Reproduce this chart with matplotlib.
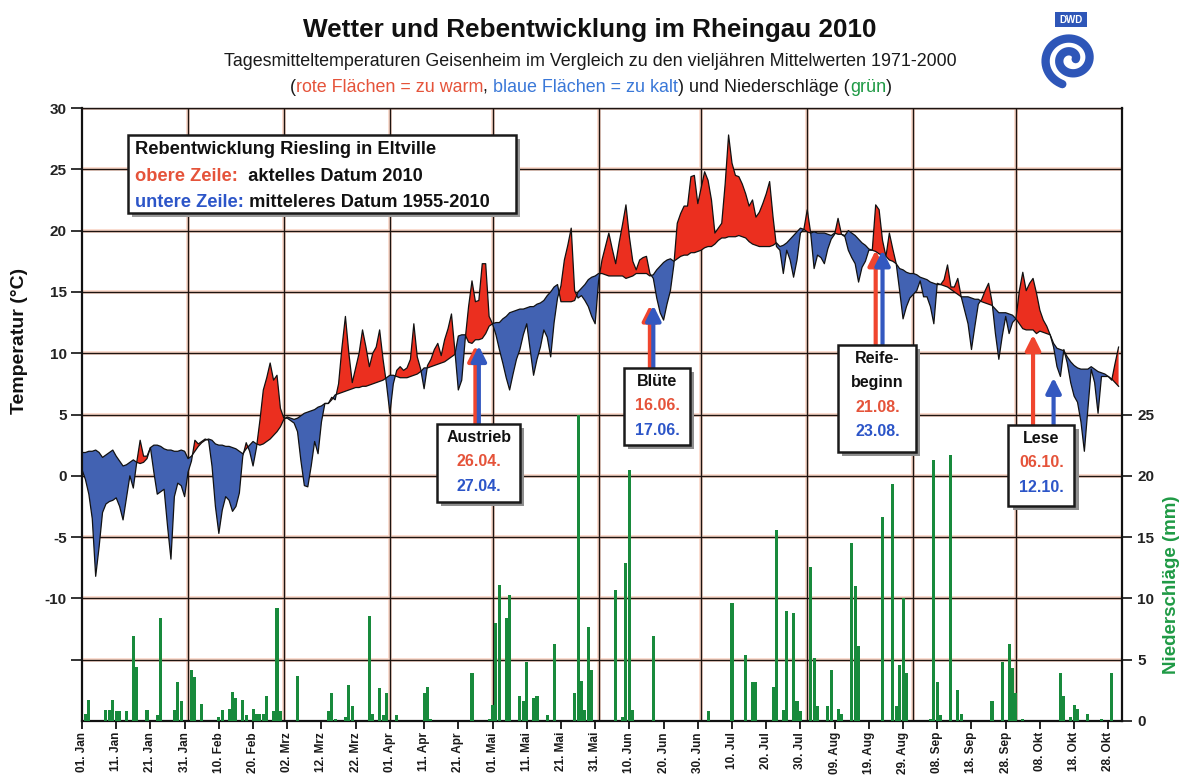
import numpy as np
import matplotlib
matplotlib.use('Agg')
import matplotlib.pyplot as plt
from matplotlib import font_manager
from matplotlib.offsetbox import TextArea, HPacker, VPacker, AnchoredOffsetbox
from matplotlib.patches import Rectangle

plt.rcParams['font.family'] = ['Liberation Sans', 'DejaVu Sans']

# ------------------------------------------------------------------ data
# daily mean temperature 2010 Geisenheim (01 Jan .. 31 Oct)
temp_2010 = [
    0.5, -0.3, -1.5, -3.5, -8.2, -5.8, -3.0, -2.3, -2.1, -2.0,
    -1.8, -2.5, -3.6, -1.8, 0.0, -1.0, 1.1, 2.9, 1.6, 1.6,
    2.3, 0.3, -1.5, -1.3, -1.1, -4.1, -6.8, -1.7, -0.6, -0.8,
    -1.7, 0.3, 1.2, 2.9, 2.6, 2.8, 3.0, 2.9, 0.8, -2.5,
    -4.7, -2.8, -1.7, -2.0, -2.9, -2.5, -1.4, 1.6, 2.7, 2.0,
    0.8, 2.3, 4.5, 7.0, 8.0, 9.2, 7.8, 8.2, 5.5, 4.7,
    4.7, 4.5, 4.3, 3.6, 1.2, -0.8, -0.9, 0.8, 2.8, 1.8,
    4.4, 5.9, 5.9, 6.4, 6.2, 7.5, 10.5, 13.0, 10.0, 7.6,
    8.8, 10.0, 11.9, 10.5, 8.9, 10.0, 10.5, 11.9, 9.5, 7.5,
    5.1, 7.5, 8.6, 8.9, 8.6, 8.8, 9.5, 12.4, 9.7, 8.7,
    7.1, 9.0, 9.5, 10.3, 10.8, 9.8, 11.1, 12.0, 13.2, 10.2,
    7.0, 7.8, 11.1, 13.8, 15.9, 14.2, 14.3, 17.3, 17.3, 13.0,
    12.4, 11.5, 10.3, 9.2, 8.0, 7.0, 8.3, 9.5, 10.3, 11.5,
    12.4, 10.3, 8.2, 9.5, 10.5, 11.9, 11.3, 9.7, 12.5, 14.5,
    15.5, 17.6, 18.8, 20.2, 15.1, 14.5, 14.7, 14.3, 13.8, 13.0,
    12.4, 15.9, 17.6, 18.7, 19.8, 18.5, 17.3, 19.0, 20.5, 22.1,
    19.5, 17.5, 16.8, 17.6, 17.8, 17.9, 16.5, 16.1, 14.5, 13.3,
    12.7, 14.0, 15.1, 17.2, 20.6, 21.4, 22.0, 22.0, 24.4, 24.5,
    22.2, 23.5, 24.8, 24.1, 22.5, 19.8, 20.2, 20.6, 23.8, 27.8,
    25.5, 24.5, 24.4, 23.8, 23.0, 22.0, 22.5, 21.1, 21.5, 22.2,
    23.0, 24.0, 21.1, 18.7, 18.4, 16.5, 18.4, 17.6, 16.2, 17.6,
    19.8, 20.1, 21.7, 19.8, 16.9, 18.0, 17.8, 17.3, 18.5, 19.3,
    19.7, 21.0, 19.7, 19.5, 18.4, 17.8, 17.3, 15.8, 17.0, 17.5,
    18.4, 18.4, 22.1, 21.7, 19.2, 17.9, 19.8, 18.5, 17.3, 15.1,
    12.8, 13.8, 14.5, 14.8, 15.1, 15.9, 14.6, 14.6, 13.8, 12.4,
    15.7, 15.6, 16.0, 17.2, 15.4, 15.4, 16.1, 14.6, 13.5, 12.4,
    10.3, 12.2, 14.0, 14.4, 15.1, 15.7, 14.2, 11.6, 9.5, 11.4,
    13.0, 11.6, 12.5, 12.8, 15.1, 16.6, 15.1, 15.7, 16.1, 14.9,
    13.5, 12.7, 12.2, 11.5, 10.5, 8.9, 8.1, 10.3, 9.2, 7.6,
    6.5, 6.0, 4.4, 2.0, 5.4, 8.7, 7.6, 5.1, 8.1, 8.1,
    8.1, 7.8, 9.2, 10.5]

# long-term daily mean 1971-2000
temp_mean = [
    1.9, 1.9, 2.0, 2.0, 2.1, 1.9, 1.5, 1.7, 1.9, 2.1,
    1.6, 1.2, 0.8, 0.9, 1.1, 1.3, 1.1, 1.0, 1.1, 1.4,
    2.3, 2.5, 2.5, 2.4, 2.2, 2.1, 2.1, 2.0, 2.0, 2.1,
    2.0, 1.4, 1.6, 2.0, 2.4, 2.7, 2.9, 3.0, 2.9, 2.6,
    2.5, 2.5, 2.4, 2.4, 2.3, 2.2, 2.0, 1.8, 2.2, 2.5,
    2.8, 2.6, 2.5, 2.6, 2.8, 3.0, 3.3, 3.6, 4.0, 4.6,
    4.8, 4.7, 4.6, 4.7, 4.9, 5.1, 5.2, 5.3, 5.4, 5.6,
    5.7, 5.9, 5.9, 6.2, 6.6, 6.7, 6.8, 6.9, 7.0, 7.1,
    7.2, 7.2, 7.3, 7.3, 7.4, 7.5, 7.6, 7.7, 7.8, 8.0,
    8.2, 8.2, 8.1, 8.0, 8.0, 8.0, 8.1, 8.2, 8.3, 8.5,
    8.8, 8.8, 8.9, 9.0, 9.1, 9.2, 9.3, 9.5, 9.7, 9.9,
    11.4, 11.5, 11.5, 10.9, 10.8, 11.1, 11.1, 11.2, 11.6, 12.2,
    12.4, 12.5, 12.5, 12.8, 13.0, 13.3, 13.4, 13.5, 13.6, 13.6,
    13.7, 13.8, 13.8, 14.0, 14.1, 14.3, 14.7, 15.0, 15.4, 15.6,
    14.2, 14.2, 14.2, 14.2, 14.3, 15.0, 15.3, 15.6, 16.0, 16.2,
    16.3, 16.5, 16.5, 16.4, 16.3, 16.3, 16.3, 16.3, 16.3, 16.1,
    16.2, 16.3, 16.5, 16.5, 16.5, 16.5, 16.3, 16.4, 16.8, 17.1,
    17.4, 17.6, 17.7, 17.5, 17.7, 17.9, 18.0, 18.0, 18.2, 18.2,
    18.3, 18.4, 18.6, 18.7, 18.7, 18.9, 19.2, 19.4, 19.4, 19.5,
    19.5, 19.5, 19.6, 19.5, 19.4, 19.1, 18.9, 18.8, 18.7, 18.7,
    18.7, 18.7, 18.8, 19.0, 18.7, 18.8, 19.0, 19.3, 19.6, 19.9,
    20.2, 20.1, 19.9, 19.8, 19.9, 19.8, 19.8, 19.8, 19.7, 19.6,
    19.8, 19.7, 19.7, 19.6, 20.0, 19.8, 19.6, 19.3, 19.0, 18.8,
    18.5, 18.4, 18.3, 18.1, 18.0, 17.9, 17.6, 17.5, 17.3, 16.9,
    16.8, 16.6, 16.5, 16.5, 16.4, 16.2, 16.1, 16.0, 15.8, 15.7,
    15.6, 15.6, 15.5, 15.4, 15.2, 15.0, 14.8, 14.6, 14.6, 14.6,
    14.5, 14.4, 14.4, 14.2, 14.1, 14.0, 13.9, 13.6, 13.3, 13.3,
    13.3, 13.2, 13.1, 12.8, 12.4, 12.0, 11.9, 11.9, 11.9, 11.6,
    11.8, 11.7, 11.6, 11.5, 10.8, 10.4, 10.3, 10.2, 9.7, 9.3,
    9.0, 8.8, 8.7, 8.7, 8.7, 8.9, 8.7, 8.5, 8.4, 8.3,
    8.1, 7.9, 7.6, 7.3]

# daily precipitation (day index since 01 Jan, mm)
precip_day = [
    1, 2, 7, 8, 9, 10, 11, 13, 15, 16,
    19, 22, 23, 27, 28, 29, 32, 33, 35, 40,
    41, 43, 44, 45, 47, 48, 50, 51, 52, 53,
    54, 56, 57, 58, 63, 72, 73, 74, 77, 78,
    79, 84, 85, 87, 88, 89, 92, 100, 101, 102,
    114, 119, 120, 121, 122, 124, 125, 128, 129, 130,
    132, 133, 136, 138, 144, 145, 146, 147, 148, 149,
    156, 158, 159, 160, 161, 167, 183, 190, 194, 196,
    197, 202, 203, 205, 206, 208, 209, 210, 213, 214,
    215, 218, 219, 221, 222, 225, 226, 227, 234, 237,
    238, 239, 240, 241, 248, 249, 250, 251, 254, 256,
    257, 266, 269, 271, 272, 273, 275, 286, 287, 289,
    290, 291, 294, 298, 301]
precip_mm = [
    0.6, 1.7, 0.9, 0.9, 1.7, 0.8, 0.8, 0.85, 6.9, 4.4,
    0.9, 0.5, 8.4, 0.9, 3.2, 1.6, 4.2, 3.6, 1.4, 0.35,
    0.9, 1.0, 2.4, 1.85, 1.7, 0.5, 1.0, 0.6, 0.6, 0.6,
    2.0, 0.8, 9.2, 0.8, 3.7, 0.8, 2.3, 0.2, 0.35, 2.9,
    1.2, 8.6, 0.6, 2.7, 0.5, 2.3, 0.5, 2.3, 2.8, 0.2,
    3.9, 0.2, 1.3, 8.0, 11.1, 8.4, 10.3, 2.0, 1.6, 4.8,
    1.85, 2.0, 0.5, 6.3, 2.3, 25.0, 3.3, 0.9, 7.7, 4.2,
    10.7, 0.35, 12.9, 20.5, 0.9, 6.9, 0.8, 9.6, 5.4, 3.2,
    3.2, 2.8, 15.6, 0.9, 9.0, 8.8, 1.6, 0.8, 12.6, 5.1,
    1.2, 1.2, 4.2, 1.0, 0.6, 14.5, 11.0, 6.1, 16.6, 19.3,
    1.2, 4.6, 10.0, 3.9, 0.2, 21.3, 3.2, 0.5, 21.7, 2.5,
    0.6, 1.6, 4.8, 6.3, 4.3, 2.3, 0.2, 3.9, 2.0, 0.35,
    1.3, 1.0, 0.6, 0.2, 3.9]

month_len = [31, 28, 31, 30, 31, 30, 31, 31, 30, 31]
x_tick_labels = ['01. Jan', '11. Jan', '21. Jan', '31. Jan', '10. Feb', '20. Feb',
                 '02. Mrz', '12. Mrz', '22. Mrz', '01. Apr', '11. Apr', '21. Apr',
                 '01. Mai', '11. Mai', '21. Mai', '31. Mai', '10. Jun', '20. Jun',
                 '30. Jun', '10. Jul', '20. Jul', '30. Jul', '09. Aug', '19. Aug',
                 '29. Aug', '08. Sep', '18. Sep', '28. Sep', '08. Okt', '18. Okt',
                 '28. Okt']
temp_ticks = [-15, -10, -5, 0, 5, 10, 15, 20, 25, 30]
temp_tick_labels = ['', '-10', '-5', '0', '5', '10', '15', '20', '25', '30']
precip_ticks = [0, 5, 10, 15, 20, 25]

stages = ['Austrieb', 'Blüte', 'Reife-\nbeginn', 'Lese']
date_2010 = ['26.04.', '16.06.', '21.08.', '06.10.']
date_mean = ['27.04.', '17.06.', '23.08.', '12.10.']

# ------------------------------------------------------------------ style / layout
RED_FILL = '#eb2f1f'
BLUE_FILL = '#4262b2'
GREEN = '#188a3c'
RED_TXT = '#e5533a'
BLUE_TXT = '#2c55c8'
GREEN_TXT = '#1f9a45'
GRID = '#1e1410'
HALO = '#f9d6c6'

W, H = 1186, 780
fig = plt.figure(figsize=(W / 100, H / 100), dpi=100)
fig.patch.set_facecolor('white')
renderer = fig.canvas.get_renderer()


def px(x, y):
    return x / W, 1 - y / H


def fit_size(text, target, base=14, **kw):
    t = fig.text(0, 0, text, fontsize=base, **kw)
    w = t.get_window_extent(renderer=renderer).width
    t.remove()
    return base * target / w


ax = fig.add_axes([82 / W, 1 - 721 / H, (1122 - 82) / W, (721 - 108) / H])
ax.set_xlim(0, 304)
ax.set_ylim(-20, 30)
ax.patch.set_alpha(0)

days = np.arange(len(temp_2010))
t = np.array(temp_2010)
m = np.array(temp_mean)

# grid
for y in temp_ticks:
    ax.axhline(y, color=HALO, lw=2.6, zorder=0.5)
    ax.axhline(y, color=GRID, lw=1.0, zorder=0.6)
month_starts = np.cumsum(month_len)[:-1]
for d in month_starts:
    ax.axvline(d, color=HALO, lw=2.6, zorder=0.5)
    ax.axvline(d, color=GRID, lw=1.0, zorder=0.6)

ax.fill_between(days, t, m, where=t >= m, interpolate=True, color=RED_FILL, lw=0, zorder=2)
ax.fill_between(days, t, m, where=t < m, interpolate=True, color=BLUE_FILL, lw=0, zorder=2)
ax.plot(days, t, color='#111111', lw=0.9, zorder=3)
ax.plot(days, m, color='#111111', lw=0.9, zorder=3)

for s in ['left', 'bottom']:
    ax.spines[s].set_color('#111111')
    ax.spines[s].set_linewidth(1.6)
ax.spines['top'].set_color(GRID)
ax.spines['top'].set_linewidth(1.0)
ax.spines['right'].set_visible(False)

ax.set_xticks(np.arange(0, 301, 10))
ax.set_xticklabels(x_tick_labels, rotation=90, fontsize=8.5, fontweight='bold', color='#1a1a1a')
ax.tick_params(axis='x', length=6, width=1.3, pad=2, color='#111111')
ax.set_yticks(temp_ticks)
ax.set_yticklabels(temp_tick_labels, fontsize=11, fontweight='bold', color='#222222')
ax.tick_params(axis='y', length=8, width=1.2, pad=3, color='#111111')
ax.set_ylabel('Temperatur (°C)', fontsize=14, fontweight='bold', color='#111111')
ax.yaxis.set_label_coords(-0.052, 0.62)

# precipitation axis
ax2 = ax.twinx()
ax2.set_ylim(0, 50)
ax2.bar(precip_day, precip_mm, width=0.9, color=GREEN, lw=0, zorder=2)
ax2.set_yticks(precip_ticks)
ax2.set_yticklabels([str(v) for v in precip_ticks], fontsize=11, fontweight='bold', color='#222222')
ax2.tick_params(axis='y', length=7, width=1.2, pad=4, color='#111111')
for s in ['left', 'top', 'bottom']:
    ax2.spines[s].set_visible(False)
ax2.spines['right'].set_color('#111111')
ax2.spines['right'].set_linewidth(1.6)
fig.text(*px(1172, 585), 'Niederschläge (mm)', rotation=90, ha='center', va='center',
         fontsize=13.5, fontweight='bold', color=GREEN_TXT)

# ------------------------------------------------------------------ titles
ts = fit_size('Wetter und Rebentwicklung im Rheingau 2010', 575, fontweight='bold')
fig.text(*px(590, 30), 'Wetter und Rebentwicklung im Rheingau 2010', ha='center', va='center',
         fontsize=ts, fontweight='bold', color='#111111')

names = {f.name for f in font_manager.fontManager.ttflist}
sub_fam = ['Liberation Sans Narrow', 'Liberation Sans'] if 'Liberation Sans Narrow' in names else ['Liberation Sans']
sub1 = 'Tagesmitteltemperaturen Geisenheim im Vergleich zu den vieljähren Mittelwerten 1971-2000'
ss = fit_size(sub1, 736, family=sub_fam)
fig.text(*px(590, 62), sub1, ha='center', va='center', fontsize=ss, family=sub_fam, color='#1a1a1a')

parts = [('(', '#1a1a1a'), ('rote Flächen = zu warm', RED_TXT), (', ', '#1a1a1a'),
         ('blaue Flächen = zu kalt', '#3a78d8'), (') und Niederschläge (', '#1a1a1a'),
         ('grün', GREEN_TXT), (')', '#1a1a1a')]
row = HPacker(children=[TextArea(s, textprops=dict(fontsize=ss, family=sub_fam, color=c))
                        for s, c in parts], sep=0, pad=0, align='baseline')
fig.add_artist(AnchoredOffsetbox(loc='center', child=row, pad=0, borderpad=0, frameon=False,
                                 bbox_to_anchor=px(591, 87), bbox_transform=fig.transFigure))

# ------------------------------------------------------------------ legend box
lx0, ly0, lx1, ly1 = 128, 135, 516, 213
fig.add_artist(Rectangle(px(lx0 + 4, ly1 + 4), (lx1 - lx0) / W, (ly1 - ly0) / H,
                         transform=fig.transFigure, facecolor='#9a9a9a', edgecolor='none', zorder=5))
fig.add_artist(Rectangle(px(lx0, ly1), (lx1 - lx0) / W, (ly1 - ly0) / H,
                         transform=fig.transFigure, facecolor='white', edgecolor='#1a1a1a', lw=1.8, zorder=6))
ls = fit_size('Rebentwicklung Riesling in Eltville', 302, fontweight='bold')
bold = dict(fontsize=ls, fontweight='bold', color='#111111')
rows = [
    TextArea('Rebentwicklung Riesling in Eltville', textprops=bold),
    HPacker(children=[TextArea('obere Zeile:', textprops=dict(bold, color=RED_TXT)),
                      TextArea('  aktelles Datum 2010', textprops=bold)], sep=0, pad=0),
    HPacker(children=[TextArea('untere Zeile:', textprops=dict(bold, color=BLUE_TXT)),
                      TextArea(' mitteleres Datum 1955-2010', textprops=bold)], sep=0, pad=0),
]
leg = VPacker(children=rows, sep=7, pad=0, align='left')
ab = AnchoredOffsetbox(loc='upper left', child=leg, pad=0, borderpad=0, frameon=False,
                       bbox_to_anchor=px(135, 141), bbox_transform=fig.transFigure)
ab.set_zorder(7)
fig.add_artist(ab)

# ------------------------------------------------------------------ phenology boxes
month_start_day = np.concatenate([[0], np.cumsum(month_len)])


def doy(s):
    dd, mm = int(s[0:2]), int(s[3:5])
    return month_start_day[mm - 1] + dd - 1


box_ext = [(103.8, 128.1, -2.1, 4.25), (158.5, 177.8, 2.5, 8.8),
           (221.1, 243.9, 1.95, 10.7), (270.8, 290.1, -2.45, 4.15)]
tip_red = [10.6, 13.9, 18.4, 11.5]
tip_blue = [10.6, 13.9, 18.4, 8.0]

for i, name in enumerate(stages):
    x0, x1, y0, y1 = box_ext[i]
    ax.add_patch(Rectangle((x0 + 1.2, y0 - 0.33), x1 - x0, y1 - y0, facecolor='#8f8f8f',
                           edgecolor='none', zorder=8))
    ax.add_patch(Rectangle((x0, y0), x1 - x0, y1 - y0, facecolor='white',
                           edgecolor='#1a1a1a', lw=1.8, zorder=9))
    xc = (x0 + x1) / 2
    lines = [(l, '#111111') for l in name.split('\n')] + [(date_2010[i], RED_TXT), (date_mean[i], BLUE_TXT)]
    for k, (txt, col) in enumerate(lines):
        ax.text(xc, y1 - 1.1 - 2.0 * k, txt, ha='center', va='center', fontsize=11.5,
                fontweight='bold', color=col, zorder=10)
    for dstr, tip, col in [(date_2010[i], tip_red[i], '#f0452e'),
                           (date_mean[i], tip_blue[i], '#3358c0')]:
        ax.annotate('', xy=(doy(dstr), tip), xytext=(doy(dstr), y1), zorder=7,
                    arrowprops=dict(arrowstyle='-|>,head_length=0.9,head_width=0.45',
                                    lw=3.0, color=col, shrinkA=0, shrinkB=0))

# ------------------------------------------------------------------ DWD logo
lg = fig.add_axes([1032 / W, 1 - 92 / H, 78 / W, 84 / H])
lg.set_xlim(-1, 1)
lg.set_ylim(-1.15, 1.15)
lg.axis('off')
lg.add_patch(Rectangle((-0.42, 0.62), 0.84, 0.42, facecolor='#2e56b8', edgecolor='none'))
lg.text(0, 0.83, 'DWD', ha='center', va='center', fontsize=7, fontweight='bold', color='white')
th = np.linspace(0, 3.4 * np.pi, 200)
r = 0.12 + 0.6 * th / th[-1]
lg.plot(r * np.cos(th), -0.25 + r * np.sin(th), color='#2e56b8', lw=6, solid_capstyle='round')

fig.savefig('out.png', dpi=100, facecolor='white')
